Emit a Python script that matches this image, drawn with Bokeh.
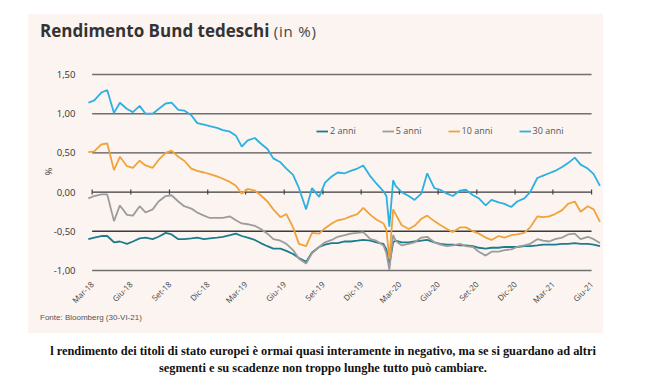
import pandas as pd
from math import pi
from bokeh.plotting import figure
from bokeh.models import (FixedTicker, Range1d, Legend, LegendItem, Div,
                          ColumnDataSource)
from bokeh.layouts import column
from bokeh.embed import file_html
from bokeh.resources import INLINE

# ---------------- data ----------------
grid_dates = list(pd.date_range("2018-03-01", "2021-06-15", freq="SMS"))
extra_dates = [pd.Timestamp("2020-02-08"), pd.Timestamp("2020-02-24"), pd.Timestamp("2021-06-30")]
dates = sorted(grid_dates + extra_dates)

y2 = [  # 2 anni
    -0.60, -0.58, -0.56, -0.56, -0.64, -0.63, -0.66, -0.63, -0.59, -0.58,
    -0.60, -0.57, -0.52, -0.54, -0.60, -0.60, -0.59, -0.58, -0.60, -0.59,
    -0.58, -0.57, -0.55, -0.53, -0.56, -0.58, -0.61, -0.65, -0.69, -0.72,
    -0.72, -0.75, -0.79, -0.84, -0.89, -0.77, -0.70, -0.67, -0.65, -0.65,
    -0.63, -0.63, -0.62, -0.61,
    -0.62, -0.64, -0.66, -0.73, -0.93, -0.64, -0.62, -0.64, -0.64, -0.63,
    -0.62, -0.61, -0.64, -0.66, -0.67, -0.67, -0.68, -0.68, -0.69, -0.71,
    -0.72, -0.71, -0.71, -0.70, -0.70, -0.70,
    -0.69, -0.69, -0.68, -0.67, -0.67, -0.67, -0.66, -0.66, -0.65, -0.66,
    -0.66, -0.67, -0.69]
y5 = [  # 5 anni
    -0.08, -0.05, -0.03, -0.03, -0.37, -0.17, -0.29, -0.30, -0.18, -0.26,
    -0.22, -0.12, -0.05, -0.04, -0.12, -0.18, -0.21, -0.26, -0.30, -0.33,
    -0.33, -0.33, -0.31, -0.36, -0.40, -0.41, -0.43, -0.47, -0.53, -0.60,
    -0.62, -0.66, -0.74, -0.85, -0.91, -0.78, -0.70, -0.64, -0.61, -0.57,
    -0.55, -0.53, -0.52, -0.51,
    -0.60, -0.62, -0.68, -0.78, -0.99, -0.55, -0.62, -0.68, -0.66, -0.64,
    -0.58, -0.57, -0.64, -0.67, -0.69, -0.68, -0.66, -0.69, -0.70, -0.76,
    -0.81, -0.76, -0.76, -0.74, -0.73, -0.70,
    -0.68, -0.66, -0.60, -0.62, -0.63, -0.60, -0.58, -0.54, -0.53, -0.60,
    -0.57, -0.60, -0.65]
y10 = [  # 10 anni
    0.51, 0.52, 0.61, 0.62, 0.28, 0.45, 0.33, 0.31, 0.40, 0.34,
    0.31, 0.41, 0.50, 0.53, 0.45, 0.40, 0.30, 0.27, 0.25, 0.23,
    0.20, 0.17, 0.13, 0.08, -0.02, 0.04, 0.02, -0.04, -0.12, -0.22,
    -0.32, -0.28, -0.45, -0.66, -0.69, -0.52, -0.53, -0.46, -0.40, -0.36,
    -0.34, -0.31, -0.28, -0.20,
    -0.29, -0.35, -0.40, -0.48, -0.85, -0.22, -0.28, -0.42, -0.47, -0.43,
    -0.34, -0.30, -0.37, -0.42, -0.47, -0.51, -0.45, -0.45, -0.50, -0.53,
    -0.58, -0.61, -0.56, -0.58, -0.55, -0.54,
    -0.52, -0.45, -0.31, -0.32, -0.31, -0.28, -0.23, -0.15, -0.12, -0.25,
    -0.18, -0.22, -0.38]
y30 = [  # 30 anni
    1.14, 1.17, 1.27, 1.30, 1.01, 1.14, 1.06, 1.02, 1.10, 1.00,
    1.00, 1.06, 1.13, 1.14, 1.05, 1.04, 0.98, 0.88, 0.86, 0.84,
    0.82, 0.79, 0.77, 0.72, 0.58, 0.66, 0.69, 0.62, 0.55, 0.43,
    0.38, 0.30, 0.22, 0.05, -0.22, 0.05, -0.06, 0.12, 0.20, 0.25,
    0.24, 0.27, 0.30, 0.34,
    0.20, 0.11, 0.01, -0.05, -0.44, 0.15, 0.08, 0.00, -0.05, -0.10,
    -0.02, 0.24, 0.05, 0.03, -0.02, -0.05, 0.02, 0.03, -0.04, -0.08,
    -0.17, -0.10, -0.13, -0.15, -0.19, -0.12,
    -0.08, 0.00, 0.18, 0.21, 0.24, 0.27, 0.32, 0.37, 0.44, 0.35,
    0.30, 0.23, 0.08]

series_names = ["2 anni", "5 anni", "10 anni", "30 anni"]
series_colors = ["#1d7c8b", "#9c9c9c", "#f1a23a", "#2cb0e1"]

x_tick_dates = ["2018-03-10", "2018-06-10", "2018-09-10", "2018-12-10",
                "2019-03-10", "2019-06-10", "2019-09-10", "2019-12-10",
                "2020-03-10", "2020-06-10", "2020-09-10", "2020-12-10",
                "2021-03-10", "2021-06-10"]
x_tick_labels = ["Mar-18", "Giu-18", "Set-18", "Dic-18", "Mar-19", "Giu-19",
                 "Set-19", "Dic-19", "Mar-20", "Giu-20", "Set-20", "Dic-20",
                 "Mar-21", "Giu-21"]
y_ticks = [-1.0, -0.5, 0.0, 0.5, 1.0, 1.5]
y_tick_labels = ["-1,00", "-0,50", "0,00", "0,50", "1,00", "1,50"]
grid_colors = ["#6f6f6f", "#3a3a3a", "#3a3a3a", "#555555", "#6f6f6f", "#6f6f6f"]

title_text = "Rendimento Bund tedeschi"
title_unit = "(in %)"
source_text = "Fonte: Bloomberg (30-VI-21)"
caption_lines = ["l rendimento dei titoli di stato europei è ormai quasi interamente in negativo, ma se si guardano ad altri",
                 "segmenti e su scadenze non troppo lunghe tutto può cambiare."]

for v in (y2, y5, y10, y30):
    assert len(v) == len(dates), (len(v), len(dates))

# ---------------- figure ----------------
BG = "#fbf4f1"


def ms(d):
    return pd.Timestamp(d).value // 10**6


x_ticks = [ms(d) for d in x_tick_dates]

p = figure(width=575, height=270, x_axis_type="datetime",
           x_range=Range1d(ms("2018-02-27"), ms("2021-07-06")),
           y_range=Range1d(-1.0255, 1.551),
           output_backend="svg", toolbar_location=None, title=None,
           min_border_left=59, min_border_right=1, min_border_top=28,
           min_border_bottom=40)
p.background_fill_color = BG
p.border_fill_color = BG
p.outline_line_color = None
p.xgrid.visible = False
p.ygrid.visible = False

# horizontal grid lines between first and last tick
grid_src = ColumnDataSource(dict(x0=[x_ticks[0]] * len(y_ticks), x1=[x_ticks[-1]] * len(y_ticks),
                                 y=y_ticks, color=grid_colors))
p.segment(x0="x0", x1="x1", y0="y", y1="y", line_color="color", line_width=1.4, source=grid_src)
# small tick marks on the zero line
p.scatter(x=x_ticks, y=[0.0] * len(x_ticks), marker="dash", angle=pi / 2,
          size=5, line_color="#444444", line_width=1.2)

src = ColumnDataSource(dict(date=pd.to_datetime(dates), y2=y2, y5=y5, y10=y10, y30=y30))
renderers = []
for k, c in zip(["y2", "y5", "y10", "y30"], series_colors):
    renderers.append(p.line("date", k, source=src, line_color=c, line_width=1.8))

# axes
p.yaxis.ticker = FixedTicker(ticks=y_ticks)
p.yaxis.major_label_overrides = {t: l for t, l in zip(y_ticks, y_tick_labels)}
p.yaxis.axis_line_color = None
p.yaxis.major_tick_line_color = None
p.yaxis.minor_tick_line_color = None
p.yaxis.major_label_standoff = 6
p.yaxis.major_label_text_font = "Open Sans"
p.yaxis.major_label_text_font_size = "9.5px"
p.yaxis.major_label_text_color = "#333333"
p.yaxis.axis_label = "%"
p.yaxis.axis_label_text_font = "Open Sans"
p.yaxis.axis_label_text_font_style = "normal"
p.yaxis.axis_label_text_font_size = "9px"
p.yaxis.axis_label_text_color = "#333333"
p.yaxis.axis_label_standoff = -4

p.xaxis.ticker = FixedTicker(ticks=x_ticks)
p.xaxis.major_label_overrides = {t: l for t, l in zip(x_ticks, x_tick_labels)}
p.xaxis.axis_line_color = None
p.xaxis.major_tick_line_color = None
p.xaxis.minor_tick_line_color = None
p.xaxis.major_label_orientation = pi / 4
p.xaxis.major_label_standoff = 4
p.xaxis.major_label_text_font = "Open Sans"
p.xaxis.major_label_text_font_size = "8px"
p.xaxis.major_label_text_color = "#444444"

legend = Legend(items=[LegendItem(label=n, renderers=[r]) for n, r in zip(series_names, renderers)],
                orientation="horizontal", location=(229, 135),
                glyph_width=12, glyph_height=10, label_height=10,
                label_standoff=2, spacing=26, padding=0, margin=0,
                background_fill_alpha=0, border_line_color=None,
                label_text_font="Open Sans", label_text_font_size="9px",
                label_text_color="#555555")
p.add_layout(legend)

title_div = Div(text=f'<b>{title_text}</b> <span style="font-weight:normal;font-size:15px;letter-spacing:0.8px;color:#444">{title_unit}</span>',
                width=563, height=22, margin=(6, 0, 0, 12),
                styles={"font-family": "Open Sans", "font-size": "17px", "line-height": "22px",
                        "color": "#333333", "white-space": "nowrap"})
source_div = Div(text=source_text, width=563, height=21, margin=(0, 0, 0, 12),
                 styles={"font-family": "Liberation Sans", "font-size": "8px", "line-height": "12px",
                         "color": "#555555", "white-space": "nowrap"})
panel = column(title_div, p, source_div, spacing=0, margin=(14, 0, 0, 28),
               styles={"background-color": BG})

caption = Div(text="<br>".join(caption_lines), width=646, margin=(10, 0, 0, 0),
              styles={"text-align": "center", "font-family": "Liberation Serif",
                      "font-size": "12.4px", "font-weight": "bold",
                      "line-height": "17px", "color": "#111111", "width": "646px"})

layout = column(panel, caption, spacing=0)
open("out.html", "w").write(file_html(layout, INLINE))
